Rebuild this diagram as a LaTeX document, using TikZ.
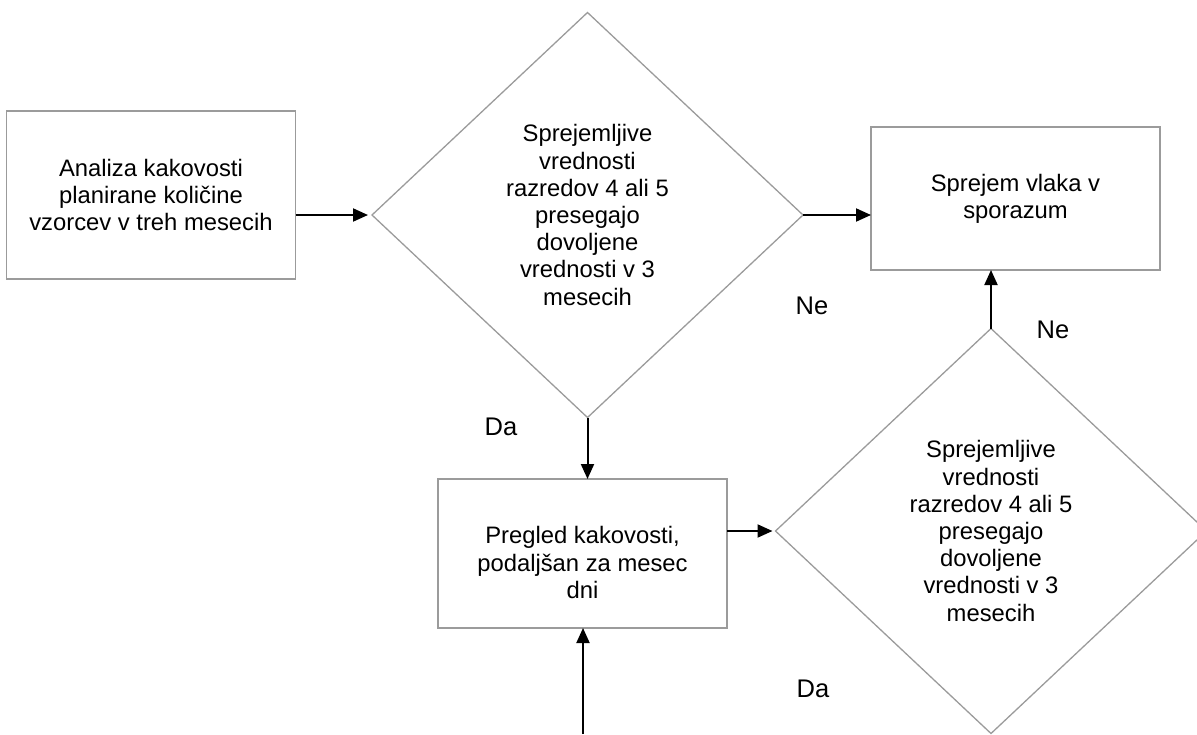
\documentclass[tikz,border=0pt]{standalone}
\usepackage{fontspec}
\setmainfont{Liberation Sans}
\usetikzlibrary{shapes.geometric,arrows.meta}
\definecolor{shapegray}{RGB}{155,155,155}
\newcommand{\fcbody}{\fontsize{23.8}{27.2}\selectfont}
\newcommand{\fclbl}{\fontsize{25.5}{28}\selectfont}
\begin{document}
\begin{tikzpicture}[x=1pt,y=-1pt,
  boxst/.style={draw=shapegray, line width=1.3pt, rectangle, inner sep=0pt, outer sep=0pt, align=center, font=\fcbody},
  decst/.style={draw=shapegray, line width=1.3pt, diamond, inner sep=0pt, outer sep=0pt, minimum width=431pt, minimum height=405pt, align=center, font=\fcbody},
  txtst/.style={inner sep=0pt, align=center, font=\fcbody},
  arr/.style={-{Triangle[length=15pt,width=13pt]}, line width=2pt, black},
  lbl/.style={font=\fclbl, inner sep=0pt}]
\useasboundingbox (0,0) rectangle (1197,734);

% process boxes
\node[boxst, minimum width=289pt, minimum height=168pt] (b1) at (151,195)
  {Analiza kakovosti\\planirane količine\\vzorcev v treh mesecih};
\node[boxst, minimum width=289pt, minimum height=143pt] (b2) at (1015.5,198.5)
  {Sprejem vlaka v\\sporazum};
\node[boxst, minimum width=289pt, minimum height=149pt] (b3) at (582.5,553.5) {};
\node[txtst] (b3t) at ([yshift=-9pt]b3.center)
  {Pregled kakovosti,\\podaljšan za mesec\\dni};

% decisions
\node[decst] (d1) at (587.5,215)
  {Sprejemljive\\vrednosti\\razredov 4 ali 5\\presegajo\\dovoljene\\vrednosti v 3\\mesecih};
\node[decst] (d2) at (991,531)
  {Sprejemljive\\vrednosti\\razredov 4 ali 5\\presegajo\\dovoljene\\vrednosti v 3\\mesecih};

% connectors
\coordinate (src) at (583,734);
\draw[arr, shorten >=4pt] (d1.west -| b1.east) -- (d1.west);
\draw[arr] (d1.east) -- (d1.east -| b2.west);
\draw[arr] (d1.south) -- (d1.south |- b3.north);
\draw[arr, shorten >=3pt] (d2.west -| b3.east) -- (d2.west);
\draw[arr] (d2.north) -- (d2.north |- b2.south);
\draw[arr] (src) -- (src |- b3.south);

% labels
\node[lbl] (ne1) at (812,306) {Ne};
\node[lbl] (ne2) at (1053,330) {Ne};
\node[lbl] (da1) at (501,427) {Da};
\node[lbl] (da2) at (813,689) {Da};
\end{tikzpicture}
\end{document}
